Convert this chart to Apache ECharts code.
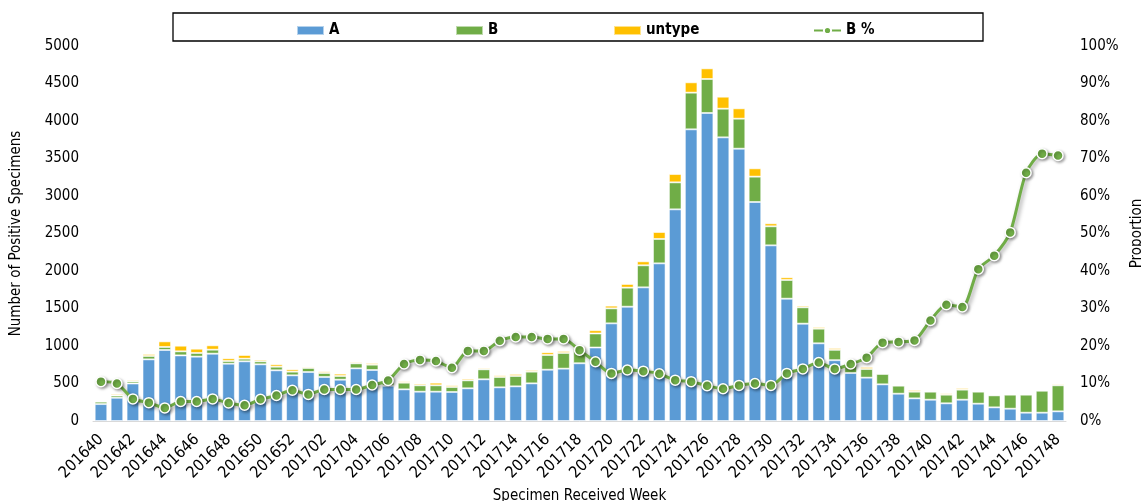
<!DOCTYPE html>
<html>
<head>
<meta charset="utf-8">
<script src="https://cdn.jsdelivr.net/npm/echarts@6/dist/echarts.min.js"></script>
<style>html,body{margin:0;padding:0;background:#fff;}#c{width:1141px;height:501px;}</style>
</head>
<body>
<div id="c"></div>
<script>
const weeks = ['201640','201641','201642','201643','201644','201645','201646','201647','201648','201649','201650','201651','201652',
'201701','201702','201703','201704','201705','201706','201707','201708','201709','201710','201711','201712','201713','201714','201715','201716','201717','201718','201719','201720','201721','201722','201723','201724','201725','201726','201727','201728','201729','201730','201731','201732','201733','201734','201735','201736','201737','201738','201739','201740','201741','201742','201743','201744','201745','201746','201747','201748'];
const seriesA = [226,310,500,822,947,875,858,898,764,796,756,676,609,653,587,551,702,680,470,422,391,391,387,436,556,449,462,502,684,698,770,980,1302,1524,1782,2102,2822,3889,4107,3782,3631,2920,2342,1631,1298,1036,811,640,578,489,364,302,284,236,284,231,182,164,111,111,129];
const seriesB = [32,30,28,45,40,54,49,53,36,35,40,48,49,54,53,49,67,71,55,89,85,85,66,106,133,138,138,156,196,209,200,187,200,254,294,325,360,489,453,382,400,338,254,249,218,195,138,115,115,138,107,89,107,115,134,160,160,187,240,293,347];
const seriesU = [2,20,18,26,75,75,57,58,36,49,22,32,31,17,22,31,18,22,5,18,22,35,23,22,18,22,27,22,36,26,20,44,36,49,53,93,111,138,142,160,138,111,40,36,22,22,24,12,27,13,13,22,9,18,22,9,9,13,4,3,17];
const seriesBPct = [10.5,10.0,5.9,4.9,3.5,5.2,5.2,5.9,4.8,4.2,5.8,6.8,8.2,7.1,8.4,8.4,8.4,9.6,10.8,15.2,16.3,16.0,14.2,18.7,18.7,21.4,22.4,22.4,21.9,21.9,18.9,15.8,12.7,13.6,13.3,12.6,10.9,10.5,9.4,8.6,9.5,10.0,9.5,12.7,13.9,15.6,13.9,15.2,16.9,20.9,21.1,21.5,26.8,31.0,30.4,40.5,44.1,50.3,66.2,71.3,70.8];

const FONT = '"DejaVu Sans Condensed", "DejaVu Sans", sans-serif';
const chart = echarts.init(document.getElementById('c'), null, {renderer: 'canvas'});
const barBorder = {borderColor: 'rgba(255,255,255,0.55)', borderWidth: 1};
const legendText = {fontFamily: FONT, fontSize: 15, fontWeight: 'bold', color: '#000'};
function lg(name, left, icon) {
  const l = {data: [{name: name}], left: left, top: 18, itemWidth: 27, itemHeight: 9, itemGap: 4,
          textStyle: legendText, selectedMode: false};
  if (icon) l.data[0].icon = icon;
  return l;
}
chart.setOption({
  animation: false,
  textStyle: {fontFamily: FONT},
  graphic: [{type: 'rect', shape: {x: 173, y: 13, width: 810, height: 28},
             style: {fill: 'none', stroke: '#000', lineWidth: 1.3}, silent: true}],
  legend: [lg('A', 291, 'rect'), lg('B', 450, 'rect'), lg('untype', 608, 'rect'), lg('B %', 808)],
  grid: {left: 93, right: 75, top: 46, bottom: 80, outerBoundsMode: 'none', containLabel: false},
  xAxis: {
    type: 'category', data: weeks,
    name: 'Specimen Received Week', nameLocation: 'middle', nameGap: 62,
    nameTextStyle: {fontFamily: FONT, fontSize: 15, color: '#000'},
    axisLine: {lineStyle: {color: '#D9D9D9', width: 1}},
    axisTick: {show: false},
    axisLabel: {interval: 1, rotate: 45, fontFamily: FONT, fontSize: 16, color: '#000', margin: 16}
  },
  yAxis: [{
    type: 'value', min: 0, max: 5000, interval: 500,
    name: 'Number of Positive Specimens', nameLocation: 'middle', nameGap: 69,
    nameTextStyle: {fontFamily: FONT, fontSize: 15, color: '#000'},
    axisLine: {show: false}, axisTick: {show: false}, splitLine: {show: false},
    axisLabel: {fontFamily: FONT, fontSize: 15, color: '#000', margin: 14, formatter: v => String(v)}
  }, {
    type: 'value', min: 0, max: 100, interval: 10,
    name: 'Proportion', nameLocation: 'middle', nameGap: 59,
    nameTextStyle: {fontFamily: FONT, fontSize: 15, color: '#000'},
    axisLine: {show: false}, axisTick: {show: false}, splitLine: {show: false},
    axisLabel: {fontFamily: FONT, fontSize: 15, color: '#000', margin: 14, formatter: '{value}%'}
  }],
  series: [
    {name: 'A', type: 'bar', stack: 't', data: seriesA, barCategoryGap: '21%',
     itemStyle: Object.assign({color: '#5B9BD5'}, barBorder)},
    {name: 'B', type: 'bar', stack: 't', data: seriesB,
     itemStyle: Object.assign({color: '#70AD47'}, barBorder)},
    {name: 'untype', type: 'bar', stack: 't', data: seriesU,
     itemStyle: Object.assign({color: '#FFC000'}, barBorder)},
    {name: 'B %', type: 'line', yAxisIndex: 1, data: seriesBPct, smooth: 0.25,
     symbol: 'circle', symbolSize: 10, z: 5,
     lineStyle: {color: '#70AD47', width: 3, shadowColor: 'rgba(0,0,0,0.35)', shadowBlur: 4, shadowOffsetX: 2, shadowOffsetY: 2},
     itemStyle: {color: '#70AD47', borderColor: '#fff', borderWidth: 1.5, shadowColor: 'rgba(0,0,0,0.35)', shadowBlur: 3, shadowOffsetX: 1.5, shadowOffsetY: 1.5}}
  ]
});
</script>
</body>
</html>
